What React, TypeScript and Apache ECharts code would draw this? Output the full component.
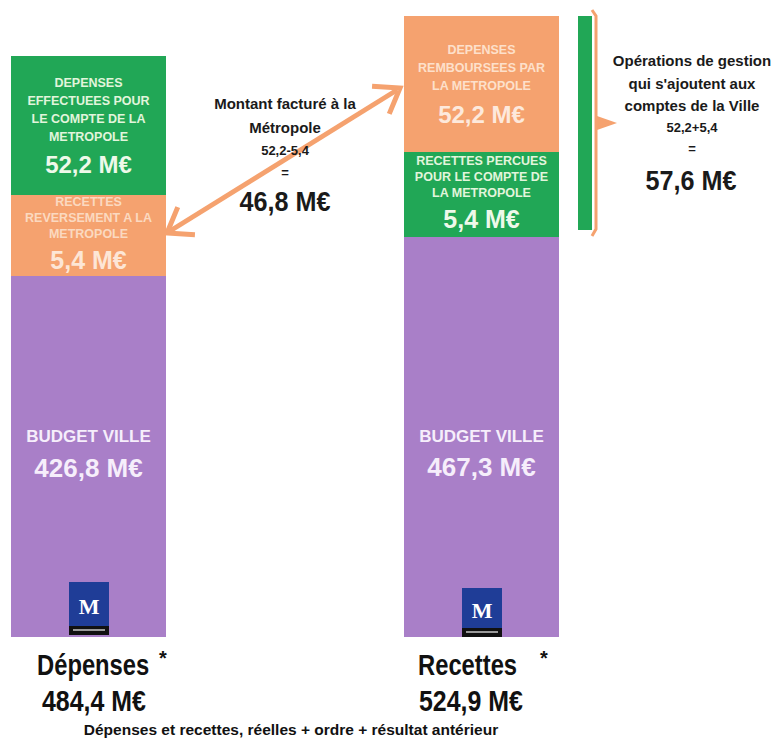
import React, { useEffect, useRef } from "react";
import * as echarts from "echarts";

// ---------- data ----------
const categories = ["Dépenses", "Recettes"];
const totals = [484.4, 524.9];
const budgetVille = [426.8, 467.3];
const middleValues = [5.4, 5.4];
const topValues = [52.2, 52.2];
const middleTitles = [
  ["RECETTES", "REVERSEMENT A LA", "METROPOLE"],
  ["RECETTES PERCUES", "POUR LE COMPTE DE", "LA METROPOLE"],
];
const topTitles = [
  ["DEPENSES", "EFFECTUEES POUR", "LE COMPTE DE LA", "METROPOLE"],
  ["DEPENSES", "REMBOURSEES PAR", "LA METROPOLE"],
];
// segment heights as drawn in the infographic (it is not to scale), display units
const budgetHeights = [361, 400];
const middleHeights = [81, 85];
const topHeights = [139, 136];
const facturedLines = ["Montant facturé à la", "Métropole", "52,2-5,4", "="];
const facturedValue = 46.8;
const operationsLines = ["Opérations de gestion", "qui s'ajoutent aux", "comptes de la Ville", "52,2+5,4", "="];
const operationsValue = 57.6;
const footnote = "Dépenses et recettes, réelles + ordre + résultat antérieur";

// ---------- styles ----------
const GREEN = "#21a756";
const ORANGE = "#f5a26f";
const PURPLE = "#a97fc8";
const LOGO_BLUE = "#1f3d97";
const SANS = "'Liberation Sans', Arial, sans-serif";

const fmt = (v: number) => v.toFixed(1).replace(".", ",") + " M€";

function chevron(tip: number[], other: number[], len: number, spread: number) {
  const ang = Math.atan2(other[1] - tip[1], other[0] - tip[0]);
  const a1 = ang + spread;
  const a2 = ang - spread;
  return [
    [tip[0] + len * Math.cos(a1), tip[1] + len * Math.sin(a1)],
    tip,
    [tip[0] + len * Math.cos(a2), tip[1] + len * Math.sin(a2)],
  ];
}

function logo(cx: number, top: number, h: number) {
  const w = 40;
  return {
    type: "group",
    z: 100,
    children: [
      { type: "rect", z: 100, shape: { x: cx - w / 2, y: top, width: w, height: h }, style: { fill: LOGO_BLUE } },
      { type: "rect", z: 101, shape: { x: cx - w / 2, y: top + h - 9, width: w, height: 9 }, style: { fill: "#111111" } },
      { type: "rect", z: 102, shape: { x: cx - w / 2 + 4, y: top + h - 6, width: w - 8, height: 2 }, style: { fill: "#9a9a9a" } },
      {
        type: "text",
        z: 102,
        x: cx,
        y: top + (h - 9) / 2 + 2,
        style: {
          text: "M",
          fill: "#ffffff",
          font: "bold 22px 'Liberation Serif', 'DejaVu Serif', serif",
          align: "center",
          verticalAlign: "middle",
        },
      },
    ],
  };
}

export default function App() {
  const ref = useRef<HTMLDivElement>(null);

  useEffect(() => {
    document.body.style.margin = "0";
    const chart = echarts.init(ref.current!, null, { renderer: "svg" });

    const small = (color: string, lh: number) => ({
      color,
      fontSize: 12.5,
      fontWeight: "bold",
      fontFamily: SANS,
      lineHeight: lh,
    });
    const big = (color: string, size: number, lh: number) => ({
      color,
      fontSize: size,
      fontWeight: "bold",
      fontFamily: SANS,
      lineHeight: lh,
    });

    const block = (lines: string[], value: number, key: string) =>
      lines.map((l) => `{s${key}|${l}}`).join("\n") + `\n{b${key}|${fmt(value)}}`;

    const leftTip = [167, 233];
    const rightTip = [400, 88];
    const textCol = "#1a1a1a";

    const graphic: any[] = [
      // double arrow
      {
        type: "line",
        z: 50,
        shape: { x1: leftTip[0] + 3, y1: leftTip[1] - 2, x2: rightTip[0] - 3, y2: rightTip[1] + 2 },
        style: { stroke: ORANGE, lineWidth: 5 },
      },
      {
        type: "polyline",
        z: 50,
        shape: { points: chevron(leftTip, rightTip, 28, 0.62) },
        style: { stroke: ORANGE, lineWidth: 5, fill: "none", lineJoin: "miter" },
      },
      {
        type: "polyline",
        z: 50,
        shape: { points: chevron(rightTip, leftTip, 28, 0.62) },
        style: { stroke: ORANGE, lineWidth: 5, fill: "none", lineJoin: "miter" },
      },
      // side bar + brace
      { type: "rect", z: 50, shape: { x: 578, y: 16, width: 14, height: 214 }, style: { fill: GREEN } },
      {
        type: "polyline",
        z: 50,
        shape: { points: [[592, 10], [596, 16], [596, 229], [592, 236]] },
        style: { stroke: ORANGE, lineWidth: 3, fill: "none" },
      },
      {
        type: "polygon",
        z: 50,
        shape: { points: [[597, 116], [617, 123], [597, 130]] },
        style: { fill: ORANGE },
      },
      logo(89, 582, 53),
      logo(482, 588, 49),
    ];

    const txt = (x: number, y: number, text: string, size: number, align: string, scaleX = 1, fill = textCol) => ({
      type: "text",
      z: 60,
      x,
      y,
      scaleX,
      style: { text, fill, font: `bold ${size}px ${SANS}`, align, verticalAlign: "middle" },
    });

    // middle annotation
    const midY = [103, 127, 150, 172];
    facturedLines.forEach((t, i) => graphic.push(txt(285, midY[i], t, i >= 2 ? 13 : 15, "center")));
    graphic.push(txt(285, 202, fmt(facturedValue), 28, "center", 0.9));

    // right annotation
    const opY = [60, 83, 105, 127, 148];
    operationsLines.forEach((t, i) => graphic.push(txt(692, opY[i], t, i >= 3 ? 13 : 15, "center")));
    graphic.push(txt(691, 181, fmt(operationsValue), 28, "center", 0.9));

    // bottom labels
    const catX = [37, 418];
    const starX = [159, 540];
    categories.forEach((c, i) => {
      graphic.push(txt(catX[i], 665, c, 29, "left", 0.82, "#111"));
      graphic.push(txt(starX[i], 658, "*", 20, "left", 1, "#111"));
      graphic.push(txt(catX[i] + (i === 0 ? 5 : 1), 701, fmt(totals[i]), 29, "left", 0.86, "#111"));
    });
    graphic.push(txt(291, 729, footnote, 15.5, "center", 1, "#111"));

    const option: any = {
      animation: false,
      grid: { left: 88.5, right: 292.5, top: 16, bottom: 103, containLabel: false },
      xAxis: {
        type: "category",
        data: categories,
        boundaryGap: false,
        show: false,
      },
      yAxis: { type: "value", min: 0, max: 621, show: false },
      series: [
        {
          type: "bar",
          stack: "total",
          barWidth: 155,
          clip: false,
          data: budgetHeights.map((h, i) => ({
            value: h,
            itemStyle: { color: PURPLE },
            label: { offset: [0, i === 0 ? -4 : 15] },
          })),
          label: {
            show: true,
            position: "inside",
            formatter: (p: any) => `{t|BUDGET VILLE}\n{v|${fmt(budgetVille[p.dataIndex])}}`,
            rich: {
              t: { color: "#f6eefb", fontSize: 17, fontWeight: "bold", fontFamily: SANS, lineHeight: 30 },
              v: { color: "#f6eefb", fontSize: 26, fontWeight: "bold", fontFamily: SANS, lineHeight: 32 },
            },
          },
        },
        {
          type: "bar",
          stack: "total",
          barWidth: 155,
          clip: false,
          data: middleHeights.map((h, i) => ({
            value: h,
            itemStyle: { color: i === 0 ? ORANGE : GREEN },
          })),
          label: {
            show: true,
            position: "inside",
            formatter: (p: any) =>
              block(middleTitles[p.dataIndex], middleValues[p.dataIndex], p.dataIndex === 0 ? "o" : "g"),
            rich: {
              so: small("#fbd9c0", 16),
              bo: big("#fde6d6", 25, 36),
              sg: small("#e2f5dc", 16),
              bg: big("#eef9ea", 25, 36),
            },
          },
        },
        {
          type: "bar",
          stack: "total",
          barWidth: 155,
          clip: false,
          data: topHeights.map((h, i) => ({
            value: h,
            itemStyle: { color: i === 0 ? GREEN : ORANGE },
            label: { offset: [0, 3] },
          })),
          label: {
            show: true,
            position: "inside",
            formatter: (p: any) =>
              block(topTitles[p.dataIndex], topValues[p.dataIndex], p.dataIndex === 0 ? "g" : "o"),
            rich: {
              so: small("#fde0cb", 18),
              bo: big("#fde9dc", 24, 38),
              sg: small("#e2f5dc", 18),
              bg: big("#eef9ea", 24, 38),
            },
          },
        },
      ],
      graphic,
    };

    chart.setOption(option);
    return () => chart.dispose();
  }, []);

  return <div ref={ref} style={{ width: 774, height: 740, background: "#ffffff" }} />;
}
